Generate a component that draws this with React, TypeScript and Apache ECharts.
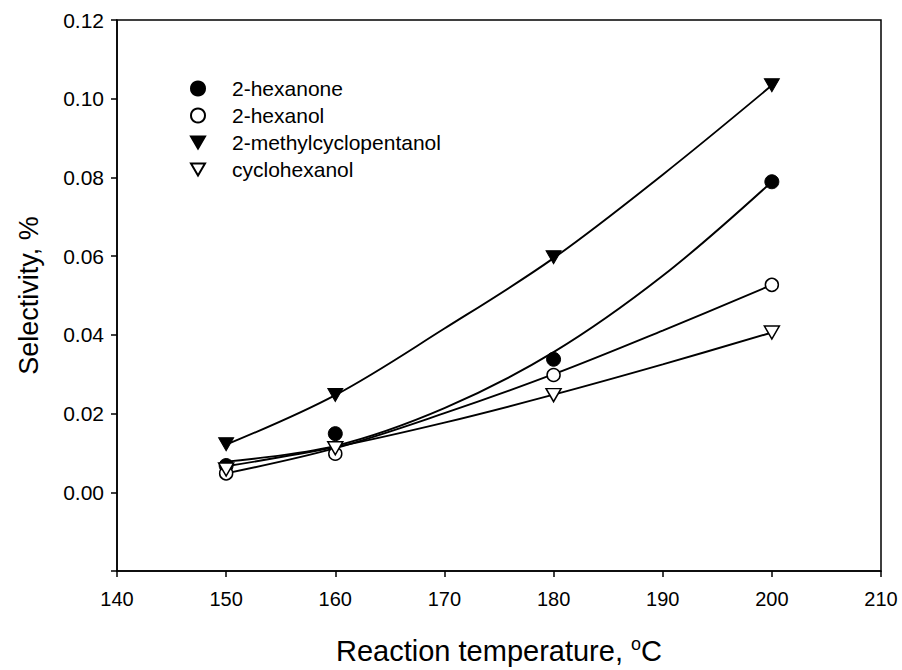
import React, { useEffect, useRef } from "react";
import * as echarts from "echarts";

// Measured data points (reaction temperature, °C)
const temps = [150, 160, 180, 200];
const hexanone = [0.0068, 0.0149, 0.0338, 0.0789];
const hexanol = [0.0048, 0.0098, 0.0298, 0.0527];
const methylcyclopentanol = [0.0122, 0.0247, 0.0597, 0.1034];
const cyclohexanol = [0.0058, 0.0112, 0.0247, 0.0406];

// Fitted curves
const fitTemps = [150, 160, 170, 180, 190, 200];
const fitHexanone = [0.0078, 0.0118, 0.0214, 0.0356, 0.055, 0.0789];
const fitHexanol = [0.0048, 0.0112, 0.0201, 0.0300, 0.0411, 0.0527];
const fitMethylcyclopentanol = [0.0121, 0.0247, 0.0416, 0.0595, 0.0807, 0.1034];
const fitCyclohexanol = [0.0066, 0.0115, 0.0177, 0.0248, 0.0325, 0.0406];

const seriesNames = ["2-hexanone", "2-hexanol", "2-methylcyclopentanol", "cyclohexanol"];
const xTicks = [140, 150, 160, 170, 180, 190, 200, 210];

const FONT = "Liberation Sans, Arial, sans-serif";
const TRI_DOWN = "path://M0,0 L10,0 L5,8.66 Z";

export default function App() {
  const ref = useRef<HTMLDivElement>(null);
  useEffect(() => {
    if (!ref.current) return;
    const chart = echarts.init(ref.current, null, { renderer: "svg" });
    const pair = (xs: number[], ys: number[]) => xs.map((x, i) => [x, ys[i]]);
    const fitLine = (name: string, ys: number[]) => ({
      name,
      type: "line",
      data: pair(fitTemps, ys),
      smooth: 0.35,
      showSymbol: false,
      symbol: "none",
      lineStyle: { color: "#000", width: 1.9 },
      z: 2,
      silent: true,
    });
    const markerStyles = [
      { symbol: "circle", symbolSize: 14, itemStyle: { color: "#000", borderColor: "#000", borderWidth: 1, opacity: 1 } },
      { symbol: "circle", symbolSize: 13, itemStyle: { color: "#fff", borderColor: "#000", borderWidth: 1.5, opacity: 1 } },
      { symbol: TRI_DOWN, symbolSize: [15, 13], itemStyle: { color: "#000", borderColor: "#000", borderWidth: 1, opacity: 1 } },
      { symbol: TRI_DOWN, symbolSize: [15, 13], itemStyle: { color: "#fff", borderColor: "#000", borderWidth: 1.5, opacity: 1 } },
    ];
    const pointSets = [hexanone, hexanol, methylcyclopentanol, cyclohexanol];
    const scatter = seriesNames.map((name, i) => ({
      name,
      type: "scatter",
      data: pair(temps, pointSets[i]),
      ...markerStyles[i],
      z: 3,
    }));
    chart.setOption({
      animation: false,
      backgroundColor: "#fff",
      textStyle: { fontFamily: FONT, color: "#000" },
      grid: {
        left: 117,
        right: 21,
        top: 20,
        bottom: 93,
        show: true,
        borderColor: "#000",
        borderWidth: 1.5,
        backgroundColor: "transparent",
      },
      legend: {
        data: seriesNames,
        orient: "vertical",
        left: 185,
        top: 73,
        itemWidth: 14,
        itemHeight: 14,
        itemGap: 6,
        symbolKeepAspect: true,
        formatter: (name: string) => `{t|${name}}`,
        textStyle: {
          fontFamily: FONT,
          fontSize: 21,
          color: "#000",
          rich: {
            t: { fontSize: 21, fontFamily: FONT, color: "#000", padding: [0, 0, 0, 22] },
          },
        },
        selectedMode: false,
      },
      xAxis: {
        type: "value",
        min: xTicks[0],
        max: xTicks[xTicks.length - 1],
        interval: 10,
        name: "Reaction temperature, {sup|o}C",
        nameLocation: "middle",
        nameGap: 64,
        nameTextStyle: {
          fontSize: 29,
          fontFamily: FONT,
          color: "#000",
          rich: { sup: { fontSize: 18, verticalAlign: "top", padding: [0, 0, 13, 0], fontFamily: FONT, color: "#000" } },
        },
        axisLine: { show: true, onZero: false, lineStyle: { color: "#000", width: 1.5 } },
        axisTick: { show: true, inside: false, length: 6, lineStyle: { color: "#000", width: 1.5 } },
        axisLabel: { fontSize: 20, color: "#000", fontFamily: FONT, margin: 18 },
        splitLine: { show: false },
      },
      yAxis: {
        type: "value",
        min: -0.02,
        max: 0.12,
        interval: 0.02,
        name: "Selectivity, %",
        nameLocation: "middle",
        nameGap: 75,
        nameTextStyle: { fontSize: 27, fontFamily: FONT, color: "#000" },
        axisLine: { show: true, onZero: false, lineStyle: { color: "#000", width: 1.5 } },
        axisTick: { show: true, inside: false, length: 6, lineStyle: { color: "#000", width: 1.5 } },
        axisLabel: {
          fontSize: 21,
          color: "#000",
          fontFamily: FONT,
          margin: 13,
          formatter: (v: number) => (v < -1e-9 ? "" : v.toFixed(2)),
        },
        splitLine: { show: false },
      },
      series: [
        fitLine("fit-2-hexanone", fitHexanone),
        fitLine("fit-2-hexanol", fitHexanol),
        fitLine("fit-2-methylcyclopentanol", fitMethylcyclopentanol),
        fitLine("fit-cyclohexanol", fitCyclohexanol),
        ...scatter,
      ],
    });
    return () => chart.dispose();
  }, []);
  return (
    <div
      ref={ref}
      style={{ position: "fixed", left: 0, top: 0, width: 902, height: 670, background: "#fff" }}
    />
  );
}
